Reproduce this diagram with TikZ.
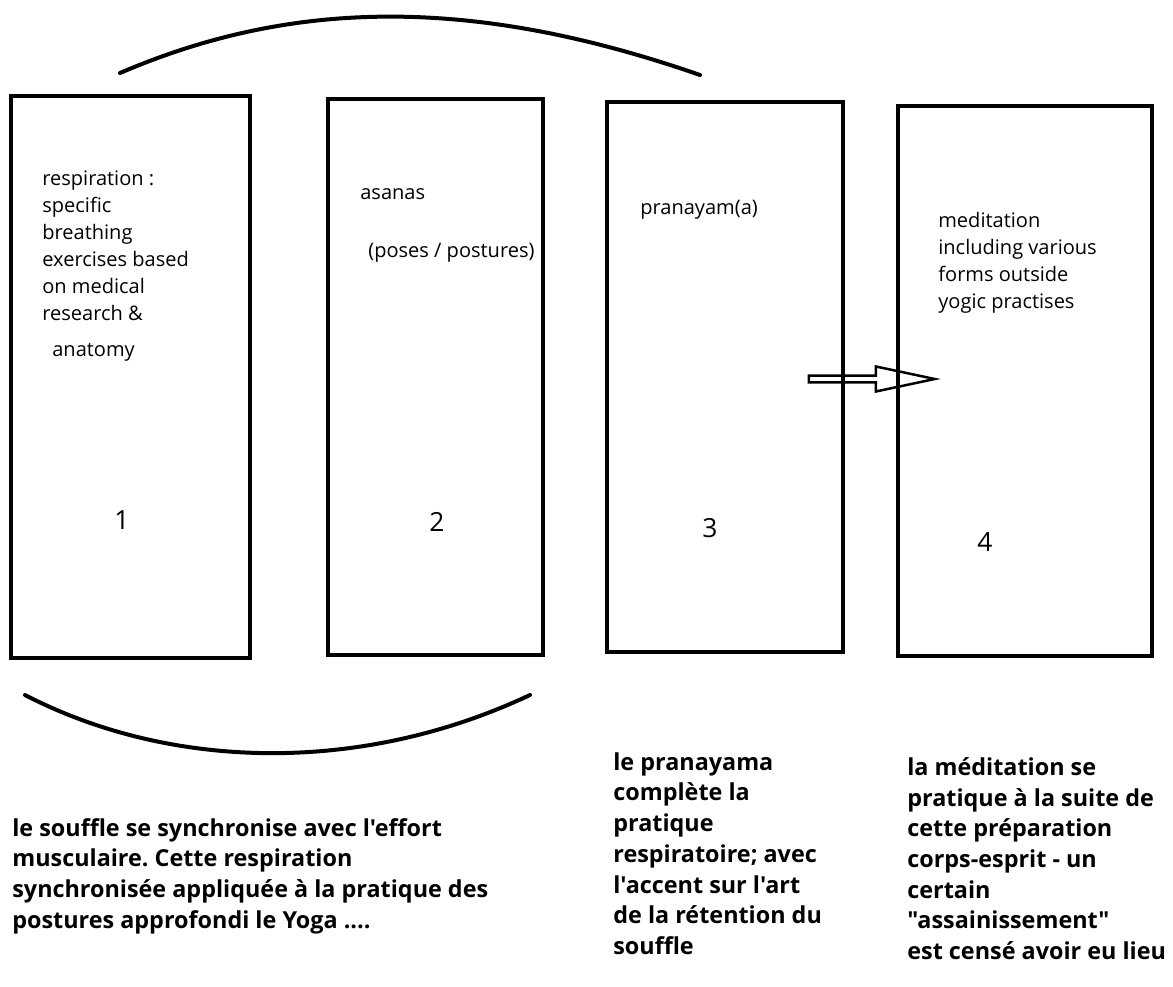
\documentclass[tikz,border=0pt]{standalone}
\usepackage{fontspec}
\newfontfamily\uifont{Open Sans}
\usetikzlibrary{positioning,shapes.arrows}
\tikzset{
	panel/.style={draw, line width=0.08cm, inner sep=0pt},
	boxtext/.style={anchor=north west, align=left, inner sep=0pt, font=\uifont\fontsize{11.4}{15.4}\selectfont},
	numlabel/.style={inner sep=0pt, font=\uifont\fontsize{15}{17}\selectfont},
	notetext/.style={anchor=north west, align=left, inner sep=0pt, font=\uifont\bfseries\fontsize{13.3}{17.5}\selectfont},
	swoosh/.style={line width=0.08cm, line cap=round},
	hollowarrow/.style={single arrow, draw, line width=0.05cm, inner sep=0pt, single arrow head extend=0.07cm, single arrow tip angle=24}
}
\frenchspacing

\begin{document}
\begin{tikzpicture}[x=0.02cm, y=-0.02cm]
	\useasboundingbox (0,0) rectangle (1173,987);

	\draw[swoosh] (120,73) .. controls (290,0) and (470,-5) .. (700,75);
	\draw[swoosh] (25,695) .. controls (170,770) and (360,775) .. (530,695);

	\node (box1) [panel, minimum width=4.78cm, minimum height=11.24cm] at (130.5,377) {};
	\node (box2) [panel, minimum width=4.3cm, minimum height=11.12cm] at (435.5,377) {};
	\node (box3) [panel, minimum width=4.72cm, minimum height=11.0cm] at (725,377) {};
	\node (box4) [panel, minimum width=5.08cm, minimum height=11.0cm] at (1025,381) {};

	\node (shift) [hollowarrow, minimum height=2.52cm, minimum width=0.5cm] at (864,379) {};

	\node (resp) [boxtext] at (42,170) {respiration :\\specific\\breathing\\exercises based\\on medical\\research \&};
	\node (anat) [boxtext] at (52,343) {anatomy};
	\node (asan) [boxtext] at (360,188) {asanas};
	\node (pose) [boxtext] at (368,243) {(poses / postures)};
	\node (pran) [boxtext] at (640,200) {pranayam(a)};
	\node (medi) [boxtext] at (938,212) {meditation\\including various\\forms outside\\yogic practises};

	\node (num1) [numlabel] at (122,520) {1};
	\node (num2) [numlabel] at (437,522) {2};
	\node (num3) [numlabel] at (710,528) {3};
	\node (num4) [numlabel] at (985,542) {4};

	\node (note1) [notetext] at (12,818) {le souffle se synchronise avec l'effort\\musculaire. Cette respiration\\synchronisée appliquée à la pratique des\\postures approfondi le Yoga ....};
	\node (note3) [notetext] at (613,752) {le pranayama\\complète la\\pratique\\respiratoire; avec\\l'accent sur l'art\\de la rétention du\\souffle};
	\node (note4) [notetext] at (907,757) {la méditation se\\pratique à la suite de\\cette préparation\\corps-esprit - un\\certain\\"assainissement"\\est censé avoir eu lieu};
\end{tikzpicture}
\end{document}
